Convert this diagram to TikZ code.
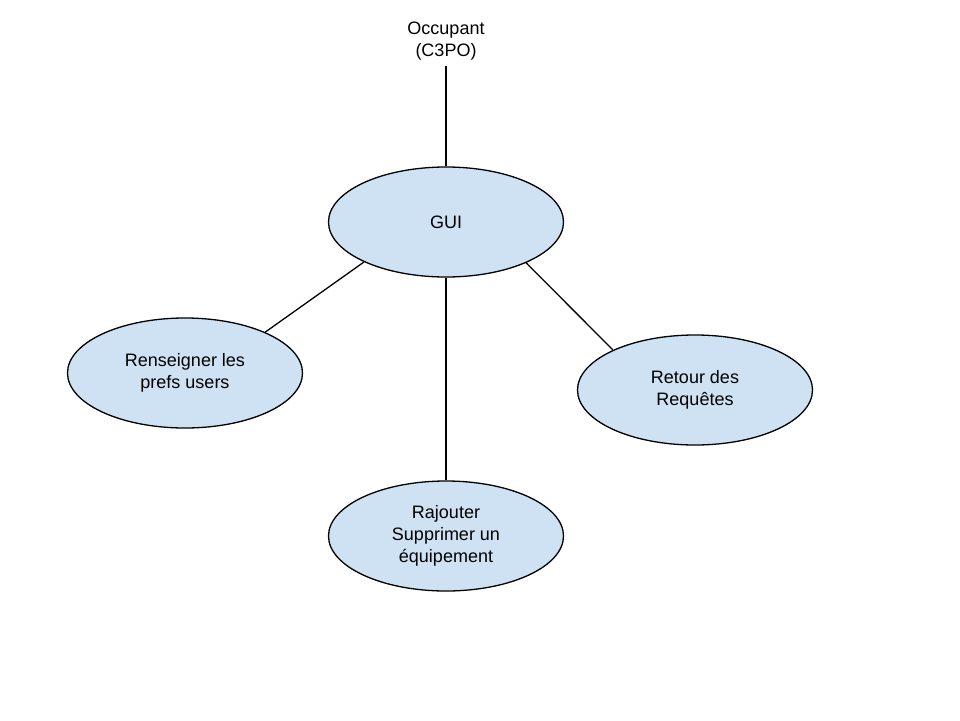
\documentclass[tikz,border=0pt]{standalone}
\usepackage{fontspec}
\setmainfont{Liberation Sans}
\usetikzlibrary{shapes.geometric}
\definecolor{ucfill}{HTML}{CFE2F3}

\begin{document}
\begin{tikzpicture}[x=1pt, y=-1pt,
        usecase/.style={ellipse, draw=black, line width=1.3pt, fill=ucfill,
            minimum width=235pt, minimum height=110pt, align=center, inner sep=0pt},
        link/.style={line width=1.3pt}]
        \useasboundingbox (0,0) rectangle (960,720);
        \fontsize{18}{22}\selectfont
        % actor
        \node[align=center] (occupant) at (446,41) {Occupant\\(C3PO)};
        % use cases
        \node[usecase] (gui) at (446,222) {GUI};
        \node[usecase] (prefs) at (185,373) {Renseigner les\\prefs users};
        \node[usecase] (retour) at (695,390) {Retour des\\Requêtes};
        \node[usecase] (equip) at (446,536) {Rajouter\\Supprimer un\\équipement};
        % links
        \draw[link] (occupant.south) -- (gui.north);
        \draw[link] (gui.206) -- (prefs.27);
        \draw[link] (gui.333) -- (retour.154);
        \draw[link] (gui.south) -- (equip.north);
\end{tikzpicture}
\end{document}
